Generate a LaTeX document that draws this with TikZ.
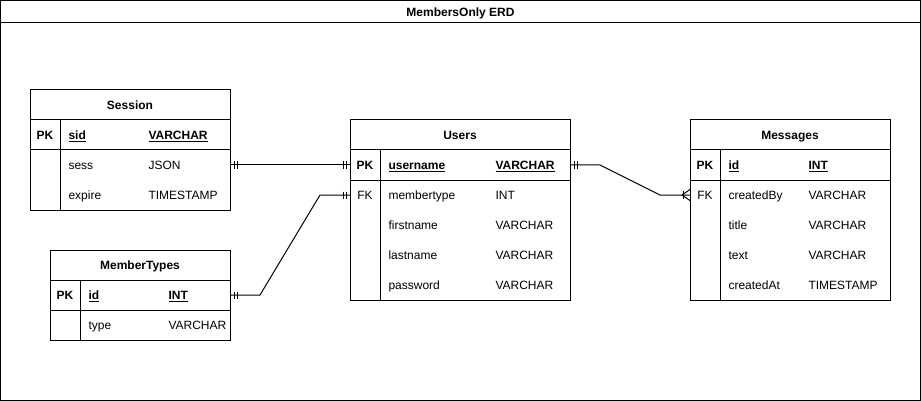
\documentclass[tikz,border=0pt]{standalone}
\usepackage{fontspec}
\setmainfont{Liberation Sans}
\usetikzlibrary{calc}
\tikzset{
  tbl/.style={draw, rectangle, anchor=north west, inner sep=0pt, outer sep=0pt},
  rowbox/.style={rectangle, anchor=north west, inner sep=0pt, outer sep=0pt, minimum height=30pt},
  hdr/.style={anchor=center, inner sep=0pt, text height=8.6pt, text depth=0pt, font=\fontsize{12}{14}\selectfont\bfseries},
  ktxt/.style={anchor=base, inner sep=0pt, font=\fontsize{12}{14}\selectfont},
  ftxt/.style={anchor=base west, inner sep=0pt, font=\fontsize{12}{14}\selectfont},
  conn/.style={line width=1pt, line join=miter},
}
% name, left, top, width, key, field, type, type offset
\newcommand{\ERrow}[8]{%
  \node[rowbox, minimum width=#4pt] (#1) at (#2,#3) {};
  \node[ktxt] (#1-k) at (#2+15,#3+19.3) {#5};
  \node[ftxt] (#1-f) at (#2+38,#3+19.3) {#6};
  \node[ftxt] (#1-t) at (#2+30+#8,#3+19.3) {#7};
}
\newcommand{\ERone}[2]{%
  \draw[conn] ($(#1)+(#2*4,-3.5)$) -- ++(0,7);
  \draw[conn] ($(#1)+(#2*7,-3.5)$) -- ++(0,7);
}
\begin{document}
\begin{tikzpicture}[x=1pt,y=-1pt,line width=1pt]
\useasboundingbox (0,0) rectangle (921,401);
% outer frame
\node[tbl, minimum width=920pt, minimum height=400pt] (frame) at (0.5,0.5) {};
\draw (frame.west |- 0,23) -- (frame.east |- 0,23);
\node[hdr] (title) at (460.5,12) {MembersOnly ERD};

% Session
\node[tbl, minimum width=200pt, minimum height=120pt] (session) at (30,90) {};
\node[hdr] (session-h) at (130,105) {Session};
\draw (30,120) -- (230,120);
\draw (30,150) -- (230,150);
\draw (60,120) -- (60,210);
\ERrow{s-pk}{30}{120}{200}{\textbf{PK}}{\textbf{\underline{sid}}}{\textbf{\underline{VARCHAR}}}{88}
\ERrow{s-sess}{30}{150}{200}{}{sess}{JSON}{88}
\ERrow{s-exp}{30}{180}{200}{}{expire}{TIMESTAMP}{88}

% MemberTypes
\node[tbl, minimum width=180pt, minimum height=90pt] (mtypes) at (50,250) {};
\node[hdr] (mtypes-h) at (140,265) {MemberTypes};
\draw (50,280) -- (230,280);
\draw (50,310) -- (230,310);
\draw (80,280) -- (80,340);
\ERrow{mt-pk}{50}{280}{180}{\textbf{PK}}{\textbf{\underline{id}}}{\textbf{\underline{INT}}}{88}
\ERrow{mt-type}{50}{310}{180}{}{type}{VARCHAR}{88}

% Users
\node[tbl, minimum width=220pt, minimum height=180pt] (users) at (350,120) {};
\node[hdr] (users-h) at (460,135) {Users};
\draw (350,150) -- (570,150);
\draw (350,180) -- (570,180);
\draw (380,150) -- (380,300);
\ERrow{u-pk}{350}{150}{220}{\textbf{PK}}{\textbf{\underline{username}}}{\textbf{\underline{VARCHAR}}}{115}
\ERrow{u-fk}{350}{180}{220}{FK}{membertype}{INT}{115}
\ERrow{u-first}{350}{210}{220}{}{firstname}{VARCHAR}{115}
\ERrow{u-last}{350}{240}{220}{}{lastname}{VARCHAR}{115}
\ERrow{u-pass}{350}{270}{220}{}{password}{VARCHAR}{115}

% Messages
\node[tbl, minimum width=200pt, minimum height=180pt] (messages) at (690,120) {};
\node[hdr] (messages-h) at (790,135) {Messages};
\draw (690,150) -- (890,150);
\draw (690,180) -- (890,180);
\draw (720,150) -- (720,300);
\ERrow{m-pk}{690}{150}{200}{\textbf{PK}}{\textbf{\underline{id}}}{\textbf{\underline{INT}}}{88}
\ERrow{m-fk}{690}{180}{200}{FK}{createdBy}{VARCHAR}{88}
\ERrow{m-title}{690}{210}{200}{}{title}{VARCHAR}{88}
\ERrow{m-text}{690}{240}{200}{}{text}{VARCHAR}{88}
\ERrow{m-cat}{690}{270}{200}{}{createdAt}{TIMESTAMP}{88}

% connectors
\draw[conn] (s-sess.east) -- (u-pk.west);
\ERone{s-sess.east}{1}
\ERone{u-pk.west}{-1}

\draw[conn] (mt-pk.east) -- ++(30,0) -- ($(u-fk.west)+(-30,0)$) -- (u-fk.west);
\ERone{mt-pk.east}{1}
\ERone{u-fk.west}{-1}

\draw[conn] (u-pk.east) -- ++(30,0) -- ($(m-fk.west)+(-30,0)$) -- (m-fk.west);
\ERone{u-pk.east}{1}
\draw[conn] ($(m-fk.west)+(-7,-4)$) -- ++(0,8);
\draw[conn] ($(m-fk.west)+(-8,0)$) -- ($(m-fk.west)+(0,-5.5)$);
\draw[conn] ($(m-fk.west)+(-8,0)$) -- ($(m-fk.west)+(0,5.5)$);
\end{tikzpicture}
\end{document}
